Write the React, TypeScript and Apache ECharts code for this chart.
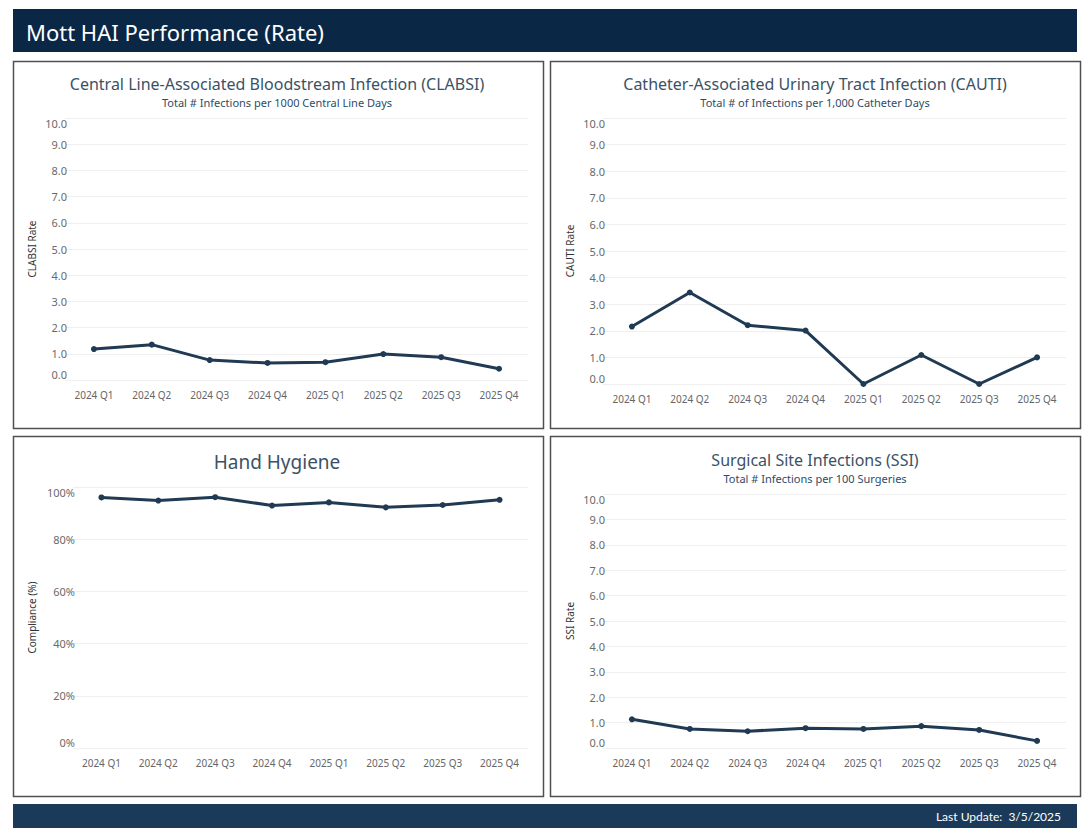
import React, { useEffect, useRef } from "react";
import * as echarts from "echarts";

const quarters = ["2024 Q1", "2024 Q2", "2024 Q3", "2024 Q4", "2025 Q1", "2025 Q2", "2025 Q3", "2025 Q4"];
const clabsiRate = [1.18, 1.35, 0.76, 0.65, 0.68, 0.99, 0.87, 0.43];
const cautiRate = [2.16, 3.44, 2.21, 2.01, 0.0, 1.09, 0.0, 1.0];
const handHygiene = [96.0, 94.8, 96.1, 92.9, 94.1, 92.2, 93.1, 95.1];
const ssiRate = [1.13, 0.75, 0.66, 0.78, 0.75, 0.86, 0.71, 0.28];

const pageTitle = "Mott HAI Performance (Rate)";
const lastUpdate = "Last Update:  3/5/2025";

const LINE = "#1f3a52";
const FONT = "'Noto Sans', 'Open Sans', sans-serif";

export default function App() {
  const ref = useRef<HTMLDivElement>(null);
  useEffect(() => {
    document.body.style.margin = "0";
    const chart = echarts.init(ref.current!, undefined, { renderer: "svg" });

    const grids = [
      { left: 65, right: 1090 - 528, top: 118, height: 262 },
      { left: 603, right: 1090 - 1066, top: 118, height: 266 },
      { left: 73, right: 1090 - 528, top: 487, height: 261 },
      { left: 603, right: 1090 - 1066, top: 494, height: 254 },
    ];
    const names = ["CLABSI Rate", "CAUTI Rate", "Compliance (%)", "SSI Rate"];
    const datas = [clabsiRate, cautiRate, handHygiene, ssiRate];

    const xAxis = grids.map((_, i) => ({
      type: "category",
      gridIndex: i,
      data: quarters,
      boundaryGap: true,
      axisLine: { show: false },
      axisTick: { show: false },
      axisLabel: { color: "#666", fontSize: 10, margin: 10, fontFamily: FONT, interval: 0 },
    }));
    const yAxis = grids.map((_, i) => {
      const pct = i === 2;
      return {
        type: "value",
        gridIndex: i,
        min: 0,
        max: pct ? 100 : 10,
        interval: pct ? 20 : 1,
        name: names[i],
        nameLocation: "middle",
        nameGap: pct ? 36 : 28,
        nameTextStyle: { color: "#333", fontSize: 10, fontFamily: FONT },
        axisLine: { show: false },
        axisTick: { show: false },
        splitLine: { lineStyle: { color: "#efefef", width: 1 } },
        axisLabel: {
          color: "#6a6a6a",
          fontSize: 11,
          margin: -2,
          fontFamily: FONT,
          verticalAlignMaxLabel: "top",
          verticalAlignMinLabel: "bottom",
          formatter: (v: number) => (pct ? `${v}%` : v.toFixed(1)),
        },
      };
    });
    const series = datas.map((d, i) => ({
      type: "line",
      xAxisIndex: i,
      yAxisIndex: i,
      data: d,
      symbol: "circle",
      symbolSize: 6,
      lineStyle: { color: LINE, width: 3 },
      itemStyle: { color: LINE },
    }));

    const box = (x: number, y: number, w: number, h: number) => ({
      type: "rect",
      shape: { x, y, width: w, height: h },
      style: { fill: "none", stroke: "#505050", lineWidth: 1.5 },
    });
    const txt = (x: number, y: number, text: string, size: number, fill: string, align = "center") => ({
      type: "text",
      x,
      y,
      style: { text, fontSize: size, fill, align, verticalAlign: "middle", fontFamily: FONT },
    });

    chart.setOption({
      animation: false,
      backgroundColor: "#ffffff",
      grid: grids,
      xAxis,
      yAxis,
      series,
      graphic: [
        { type: "rect", shape: { x: 13, y: 9, width: 1064, height: 43 }, style: { fill: "#0a2846" } },
        txt(26, 32, pageTitle, 22, "#ffffff", "left"),
        box(13.5, 61.5, 530, 367),
        box(550.5, 61.5, 530, 367),
        box(13.5, 436.5, 530, 360),
        box(550.5, 436.5, 530, 360),
        txt(277, 84, "Central Line-Associated Bloodstream Infection (CLABSI)", 16, "#3b5266"),
        txt(277, 102, "Total # Infections per 1000 Central Line Days", 11, "#2f4b66"),
        txt(815, 84, "Catheter-Associated Urinary Tract Infection (CAUTI)", 16, "#3b5266"),
        txt(815, 102, "Total # of Infections per 1,000 Catheter Days", 11, "#2f4b66"),
        txt(277, 462, "Hand Hygiene", 19, "#3b5266"),
        txt(815, 460, "Surgical Site Infections (SSI)", 16, "#3b5266"),
        txt(815, 478, "Total # Infections per 100 Surgeries", 11, "#2f4b66"),
        { type: "rect", shape: { x: 13, y: 804, width: 1064, height: 24 }, style: { fill: "#1b3a5a" } },
        {
          type: "text",
          x: 1061,
          y: 816,
          style: { text: lastUpdate, fontSize: 12, fill: "#ffffff", align: "right", verticalAlign: "middle", fontFamily: "Lato, sans-serif" },
        },
      ],
    });
    return () => chart.dispose();
  }, []);
  return <div ref={ref} style={{ width: 1090, height: 834 }} />;
}
